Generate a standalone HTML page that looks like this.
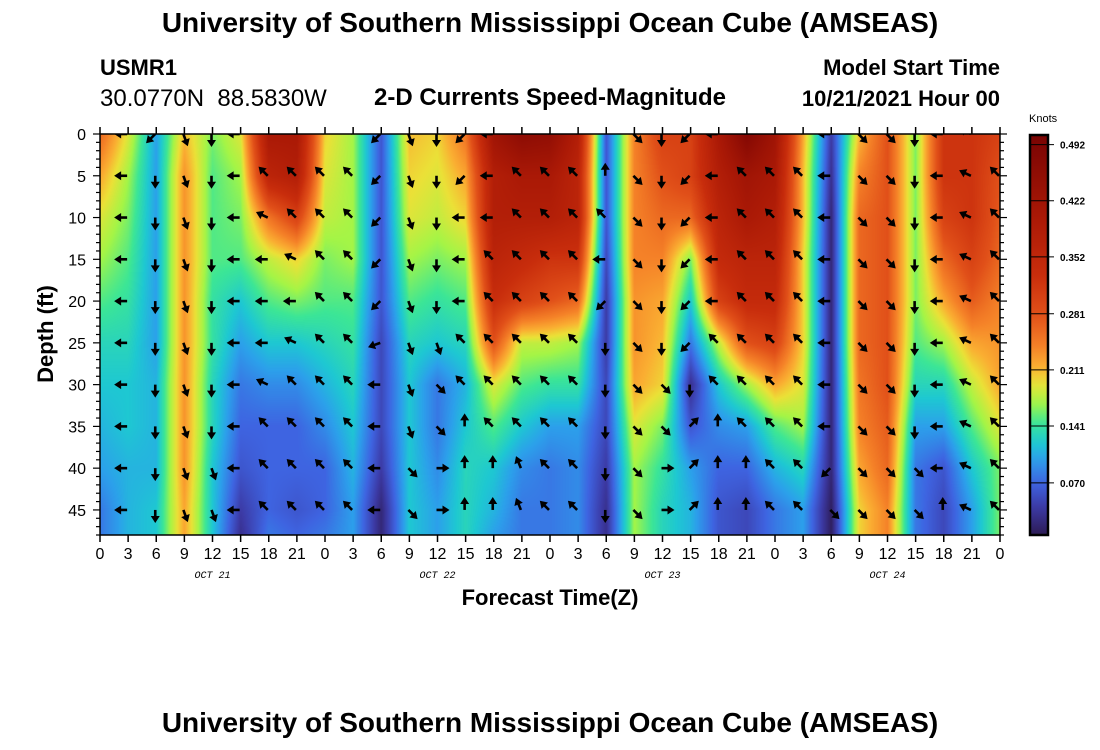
<!DOCTYPE html>
<html><head><meta charset="utf-8"><style>
body{margin:0;background:#fff;width:1100px;height:750px;overflow:hidden;position:relative;font-family:"Liberation Sans",sans-serif}
.t{position:absolute;white-space:nowrap;color:#000}
</style></head><body>
<div class="t" style="left:0;width:1100px;text-align:center;top:7px;font-size:28px;font-weight:bold">University of Southern Mississippi Ocean Cube (AMSEAS)</div>
<div class="t" style="left:100px;top:55px;font-size:22px;font-weight:bold">USMR1</div>
<div class="t" style="left:100px;top:85px;font-size:24px">30.0770N&nbsp;&nbsp;88.5830W</div>
<div class="t" style="left:550px;transform:translateX(-50%);top:84px;font-size:24px;font-weight:bold">2-D Currents Speed-Magnitude</div>
<div class="t" style="right:100px;top:55px;font-size:22px;font-weight:bold">Model Start Time</div>
<div class="t" style="right:100px;top:86px;font-size:22px;font-weight:bold">10/21/2021 Hour 00</div>
<div class="t" style="left:1029px;top:113px;font-size:11px">Knots</div>
<div class="t" style="left:0;width:1100px;text-align:center;top:707px;font-size:28px;font-weight:bold">University of Southern Mississippi Ocean Cube (AMSEAS)</div>
<canvas id="hm" width="900" height="401" style="position:absolute;left:100px;top:134px"></canvas>
<svg id="sv" width="1100" height="750" style="position:absolute;left:0;top:0"></svg>
<script>
// hours 0..96 step 3 ; depths 0,5,...,45,48
const hours=[0,3,6,9,12,15,18,21,24,27,30,33,36,39,42,45,48,51,54,57,60,63,66,69,72,75,78,81,84,87,90,93,96];
const depths=[0,5,10,15,20,25,30,35,40,45,48];
const speedCols=[
[0.26,0.22,0.19,0.17,0.15,0.13,0.12,0.11,0.10,0.08,0.08],
[0.19,0.17,0.16,0.15,0.14,0.13,0.12,0.12,0.11,0.11,0.11],
[0.10,0.10,0.10,0.10,0.10,0.10,0.11,0.11,0.11,0.12,0.12],
[0.21,0.23,0.23,0.23,0.23,0.23,0.23,0.23,0.23,0.22,0.22],
[0.16,0.15,0.15,0.15,0.14,0.14,0.13,0.13,0.12,0.12,0.12],
[0.19,0.17,0.16,0.15,0.12,0.10,0.08,0.07,0.06,0.04,0.03],
[0.40,0.36,0.25,0.18,0.15,0.12,0.09,0.07,0.07,0.07,0.08],
[0.40,0.38,0.30,0.20,0.16,0.12,0.09,0.07,0.07,0.06,0.07],
[0.20,0.19,0.18,0.16,0.15,0.13,0.11,0.09,0.07,0.07,0.08],
[0.17,0.17,0.17,0.17,0.15,0.14,0.13,0.12,0.11,0.10,0.10],
[0.06,0.06,0.06,0.06,0.06,0.05,0.05,0.05,0.04,0.02,0.02],
[0.21,0.20,0.19,0.17,0.15,0.13,0.12,0.12,0.12,0.12,0.12],
[0.20,0.19,0.18,0.16,0.14,0.12,0.08,0.08,0.09,0.10,0.10],
[0.25,0.22,0.20,0.17,0.15,0.13,0.11,0.12,0.13,0.13,0.13],
[0.42,0.38,0.38,0.36,0.33,0.28,0.19,0.15,0.12,0.11,0.10],
[0.46,0.40,0.38,0.34,0.30,0.18,0.15,0.12,0.09,0.08,0.08],
[0.45,0.40,0.38,0.32,0.28,0.18,0.14,0.10,0.08,0.08,0.08],
[0.38,0.36,0.36,0.32,0.26,0.17,0.14,0.10,0.09,0.09,0.09],
[0.06,0.06,0.06,0.05,0.04,0.04,0.05,0.05,0.04,0.03,0.03],
[0.24,0.24,0.24,0.24,0.23,0.23,0.22,0.19,0.17,0.17,0.17],
[0.30,0.28,0.26,0.24,0.22,0.21,0.20,0.16,0.14,0.13,0.13],
[0.30,0.30,0.26,0.16,0.12,0.08,0.03,0.06,0.10,0.11,0.11],
[0.40,0.38,0.36,0.34,0.30,0.18,0.12,0.09,0.07,0.06,0.06],
[0.48,0.42,0.40,0.36,0.34,0.28,0.17,0.10,0.07,0.05,0.05],
[0.42,0.40,0.38,0.36,0.34,0.30,0.22,0.15,0.11,0.08,0.08],
[0.22,0.21,0.21,0.20,0.20,0.20,0.19,0.17,0.13,0.10,0.10],
[0.04,0.03,0.02,0.02,0.02,0.02,0.02,0.02,0.02,0.01,0.01],
[0.21,0.24,0.26,0.26,0.26,0.26,0.25,0.24,0.22,0.20,0.20],
[0.28,0.28,0.28,0.28,0.28,0.28,0.28,0.27,0.26,0.24,0.24],
[0.16,0.16,0.16,0.16,0.16,0.15,0.13,0.10,0.08,0.08,0.08],
[0.32,0.32,0.30,0.26,0.22,0.17,0.13,0.10,0.06,0.05,0.05],
[0.32,0.32,0.32,0.30,0.27,0.22,0.18,0.15,0.12,0.10,0.10],
[0.30,0.28,0.27,0.26,0.24,0.23,0.22,0.19,0.16,0.16,0.16]];
// arrow directions per column (hours 3..96), rows depth 0..45
const arrowHours=[3,6,9,12,15,18,21,24,27,30,33,36,39,42,45,48,51,54,57,60,63,66,69,72,75,78,81,84,87,90,93,96];
const arrowDepths=[0,5,10,15,20,25,30,35,40,45];
const arrowDirs=[
"W W W W W W W W W W","SW S S S S S S S S S","SSE SSE SSE SSE SSE SSE SSE SSE SSE SSE","S S S S S S S S SSE SSE",
"W W W W W W W W W W","NW NW WNW W W W WNW NW NW NW","NW NW NW WNW W WNW NW NW NW NW","NW NW NW NW NW NW NW NW NW NW",
"NW NW NW NW NW NW NW NW NW NW","SW SW SW SW SW WSW W W W W","SSE SSE SSE SSE SSE SSE SSE SSE SE SE","S S S S S SSE SE SE E E",
"SW SW W W W NW NW N N N","W W W NW NW NW NW NW N N","NW NW NW NW NW NW NW NW NNW NNW","NW NW NW NW NW NW NW NW NW NW",
"NW NW NW NW NW NW NW NW NW NW","N N NW W SW S S S S S","SE SE SE SE SE SE SE SE SE SE","S S S S S S SE SE E E",
"SW SW SW SW SW SW S NE NE NE","W W W W W NW NW N N N","NW NW NW NW NW NW NW NW N N","NW NW NW NW NW NW NW NW NW NW",
"NW NW NW NW NW NW NW NW NW NW","W W W W W W W W SW SE","SE SE SE SE SE SE SE SE SE SE","SE SE SE SE SE SE SE SE SE SE",
"S S S S S S S S SE SE","W W W W W W W W W N","WNW WNW WNW WNW WNW WNW WNW WNW WNW WNW","NW NW NW NW NW NW NW NW NW NW"];
const yTicks=[0,5,10,15,20,25,30,35,40,45];
const xTickLabels=["0","3","6","9","12","15","18","21"];
const dayLabels=["OCT 21","OCT 22","OCT 23","OCT 24"];
const cbTicks=[0.070,0.141,0.211,0.281,0.352,0.422,0.492];

const PX=100,PY=134,PW=900,PH=401,HMAX=96,DMAX=48;
const xs=h=>PX+h*PW/HMAX, ys=d=>PY+d*PH/DMAX;
const VMIN=0.005,VMAX=0.504;
const stops=[[0,[43,22,72]],[0.04,[60,58,165]],[0.07,[62,100,225]],[0.10,[44,160,235]],[0.12,[30,200,210]],[0.145,[60,230,150]],[0.17,[165,245,70]],[0.195,[235,225,55]],[0.215,[250,175,50]],[0.24,[245,130,40]],[0.28,[225,80,25]],[0.33,[200,45,12]],[0.40,[170,25,6]],[0.50,[122,4,3]]];
function cmap(v){if(v<=stops[0][0])return stops[0][1];for(let i=1;i<stops.length;i++){if(v<=stops[i][0]){const a=stops[i-1],b=stops[i],t=(v-a[0])/(b[0]-a[0]);return a[1].map((c,k)=>c+(b[1][k]-c)*t);}}return stops[stops.length-1][1];}
function interp(arr,x){let i=0;while(i<arr.length-2&&x>arr[i+1])i++;return [i,Math.max(0,Math.min(1,(x-arr[i])/(arr[i+1]-arr[i])))];}
const cv=document.getElementById('hm'),ctx=cv.getContext('2d'),img=ctx.createImageData(PW,PH);
for(let py=0;py<PH;py++){const d=(py+0.5)*DMAX/PH;const [j,tj]=interp(depths,d);
 for(let px=0;px<PW;px++){const h=(px+0.5)*HMAX/PW;const [i,ti]=interp(hours,h);
  const a=speedCols[i][j]*(1-tj)+speedCols[i][j+1]*tj,b=speedCols[i+1][j]*(1-tj)+speedCols[i+1][j+1]*tj;
  const c=cmap(a*(1-ti)+b*ti),o=(py*PW+px)*4;img.data[o]=c[0];img.data[o+1]=c[1];img.data[o+2]=c[2];img.data[o+3]=255;}}
ctx.putImageData(img,0,0);

const NS='http://www.w3.org/2000/svg',sv=document.getElementById('sv');
function mk(tag,at,par){const e=document.createElementNS(NS,tag);for(const k in at)e.setAttribute(k,at[k]);(par||sv).appendChild(e);return e;}
const defs=mk('defs',{});const cp=mk('clipPath',{id:'pc'},defs);mk('rect',{x:PX,y:PY,width:PW,height:PH},cp);
const ag=mk('g',{'clip-path':'url(#pc)'});

const ang={N:0,NNE:22,NE:45,E:90,SE:135,SSE:160,S:180,SSW:200,SW:225,WSW:250,W:270,WNW:295,NW:315,NNW:338};
arrowHours.forEach((h,ci)=>{const ds=arrowDirs[ci].split(' ');arrowDepths.forEach((d,ri)=>{
 const g=mk('g',{transform:`translate(${xs(h)-1},${ys(d)}) rotate(${ang[ds[ri]]})`},ag);
 
 mk('line',{x1:0,y1:0,x2:0,y2:-8,stroke:'#000','stroke-width':2.6},g);
 mk('polygon',{points:'0,-13 -4.5,-6 4.5,-6',fill:'#000'},g);});});
const fr=mk('rect',{x:PX,y:PY,width:PW,height:PH,fill:'none',stroke:'#000','stroke-width':1.5});

for(let h=0;h<=96;h+=3){const x=xs(h);mk('line',{x1:x,x2:x,y1:PY+PH,y2:PY+PH+7,stroke:'#000','stroke-width':1.5});mk('line',{x1:x,x2:x,y1:PY,y2:PY-7,stroke:'#000','stroke-width':1.5});
 const t=mk('text',{x:x,y:559,'text-anchor':'middle','font-size':16,'font-family':'Liberation Sans'});t.textContent=xTickLabels[(h/3)%8];
 }
dayLabels.forEach((s,i)=>{const t=mk('text',{x:xs(i*24+12),y:578,'text-anchor':'middle','font-size':10,'font-style':'italic','font-family':'Liberation Mono'});t.textContent=s;
 });
for(let d=0;d<=48;d++){const y=ys(d),L=d%5==0?7:4;mk('line',{x1:PX,x2:PX-L,y1:y,y2:y,stroke:'#000','stroke-width':1.2});mk('line',{x1:PX+PW,x2:PX+PW+L,y1:y,y2:y,stroke:'#000','stroke-width':1.2});}
yTicks.forEach(d=>{const t=mk('text',{x:86,y:ys(d)+6,'text-anchor':'end','font-size':16,'font-family':'Liberation Sans'});t.textContent=d;
 });
const yt=mk('text',{x:0,y:0,transform:'translate(53,334) rotate(-90)','text-anchor':'middle','font-size':22,'font-weight':'bold','font-family':'Liberation Sans'});yt.textContent='Depth (ft)';

const xt=mk('text',{x:550,y:605,'text-anchor':'middle','font-size':22,'font-weight':'bold','font-family':'Liberation Sans'});xt.textContent='Forecast Time(Z)';

const CX=1030,CW=18,CT=135,CB=535,cy=v=>CB-(v-VMIN)/(VMAX-VMIN)*(CB-CT);
const lg=mk('linearGradient',{id:'cbg',x1:0,y1:1,x2:0,y2:0},defs);
for(let k=0;k<=40;k++){const v=VMIN+(VMAX-VMIN)*k/40,c=cmap(v);mk('stop',{offset:k/40,'stop-color':`rgb(${c.map(Math.round).join(',')})`},lg);}
const cb=mk('rect',{x:CX,y:CT,width:CW,height:CB-CT,fill:'url(#cbg)',stroke:'#000','stroke-width':2.5});

cbTicks.forEach(v=>{const y=cy(v);mk('line',{x1:CX,x2:CX+CW+6,y1:y,y2:y,stroke:'#000','stroke-width':1});
 const t=mk('text',{x:CX+30,y:y+4,'font-size':10,'font-weight':'bold','font-family':'Liberation Sans'});t.textContent=v.toFixed(3);
 });
</script>
</body></html>
